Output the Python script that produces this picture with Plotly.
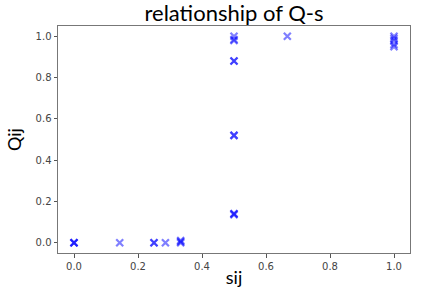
import plotly.graph_objects as go

sij = [0.0, 0.0, 0.0, 1/7, 0.25, 0.25, 2/7, 1/3, 1/3, 1/3,
       0.5, 0.5, 0.5, 0.5, 0.5, 0.5, 0.5, 0.5, 0.5, 0.5,
       2/3, 1.0, 1.0, 1.0, 1.0, 1.0]
qij = [0.0, 0.0, 0.0, 0.0, 0.0, 0.0, 0.0, 0.0, 0.005, 0.01,
       1.0, 0.98, 0.985, 0.88, 0.88, 0.52, 0.52, 0.14, 0.135, 0.14,
       1.0, 1.0, 0.98, 0.96, 0.95, 0.99]

tick_vals = [0.0, 0.2, 0.4, 0.6, 0.8, 1.0]
tick_text = ["0.0", "0.2", "0.4", "0.6", "0.8", "1.0"]

fig = go.Figure()
fig.add_trace(go.Scatter(
    x=sij, y=qij, mode="markers",
    marker=dict(symbol="x-thin-open", size=7, color="rgb(0,0,255)", opacity=0.5,
                line=dict(width=2.2, color="rgb(0,0,255)")),
    showlegend=False,
))

axis_common = dict(
    showgrid=False, zeroline=False, showline=True, linecolor="#777",
    linewidth=1, mirror=True, ticks="outside", ticklen=3.5, tickwidth=0.8,
    tickcolor="#555", tickfont=dict(family="DejaVu Sans", size=10, color="#444"),
    range=[-0.05, 1.05], tickvals=tick_vals, ticktext=tick_text,
    automargin=False,
)

fig.update_layout(
    width=432, height=288,
    margin=dict(l=58, r=22, t=26, b=35),
    paper_bgcolor="white", plot_bgcolor="white",
    title=dict(text="relationship of Q-s", x=0.5416, xanchor="center",
               y=0.98, yanchor="top",
               font=dict(family="Lato", size=22, color="black")),
    xaxis=dict(axis_common, title=dict(text="sij", standoff=2,
               font=dict(family="Lato", size=18, color="black"))),
    yaxis=dict(axis_common, title=dict(text="Qij", standoff=9,
               font=dict(family="Lato", size=18, color="black"))),
)

fig.write_html("out.html", config={"displayModeBar": False},
               post_script="document.body.style.margin='0';document.body.style.overflow='hidden';")
